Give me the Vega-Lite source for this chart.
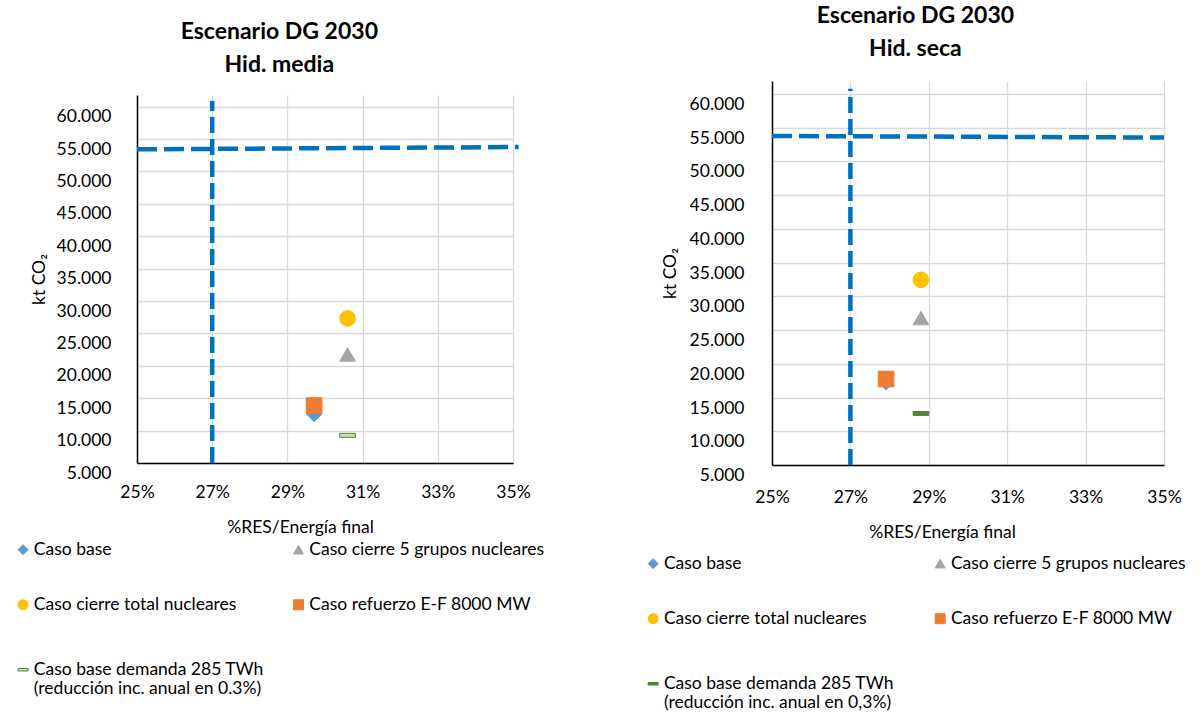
{
  "$schema": "https://vega.github.io/schema/vega-lite/v6.json",
  "background": "white",
  "padding": {"left": 14, "top": 4, "right": 0, "bottom": 0},
  "datasets": {
    "media": [
      {"serie": "Caso base", "x": 0.2971, "y": 12580},
      {"serie": "Caso cierre 5 grupos nucleares", "x": 0.3060, "y": 21760},
      {"serie": "Caso cierre total nucleares", "x": 0.3060, "y": 27320},
      {"serie": "Caso refuerzo E-F 8000 MW", "x": 0.2971, "y": 13870},
      {"serie": "Caso base demanda 285 TWh|(reducción inc. anual en 0.3%)", "x": 0.3060, "y": 9275}
    ],
    "seca": [
      {"serie": "Caso base", "x": 0.2791, "y": 17290},
      {"serie": "Caso cierre 5 grupos nucleares", "x": 0.2880, "y": 26780},
      {"serie": "Caso cierre total nucleares", "x": 0.2880, "y": 32430},
      {"serie": "Caso refuerzo E-F 8000 MW", "x": 0.2791, "y": 17740},
      {"serie": "Caso base demanda 285 TWh|(reducción inc. anual en 0,3%)", "x": 0.2880, "y": 12630}
    ],
    "media_lines": [
      {"g": "v", "x": 0.27, "y": 5000},
      {"g": "v", "x": 0.27, "y": 60860},
      {"g": "h", "x": 0.25, "y": 53410},
      {"g": "h", "x": 0.3515, "y": 53770}
    ],
    "seca_lines": [
      {"g": "v", "x": 0.27, "y": 5000},
      {"g": "v", "x": 0.27, "y": 60770},
      {"g": "h", "x": 0.25, "y": 53760},
      {"g": "h", "x": 0.35, "y": 53520}
    ]
  },
  "spacing": 99,
  "center": true,
  "hconcat": [
    {
      "width": 376,
      "height": 368,
      "title": {"text": "Escenario DG 2030", "subtitle": "Hid. media", "offset": 14.7},
      "encoding": {
        "x": {
          "field": "x", "type": "quantitative",
          "scale": {"domain": [0.25, 0.35], "nice": false, "zero": false},
          "axis": {"title": "%RES/Energía final", "values": [0.25, 0.27, 0.29, 0.31, 0.33, 0.35], "format": ".0%", "labelPadding": 20, "titlePadding": 18, "titleX": 163, "labelFlush": false}
        },
        "y": {
          "field": "y", "type": "quantitative",
          "scale": {"domain": [5000, 61800], "nice": false, "zero": false},
          "axis": {"title": "kt CO₂", "values": [5000, 10000, 15000, 20000, 25000, 30000, 35000, 40000, 45000, 50000, 55000, 60000], "labelExpr": "replace(format(datum.value, ',d'), ',', '.')", "labelPadding": 26, "labelOffset": 10, "titlePadding": 8, "labelFlush": false}
        }
      },
      "layer": [
        {
          "data": {"name": "media_lines"},
          "mark": {"type": "line", "clip": false, "strokeWidth": 4.5, "color": "#0070C0"},
          "encoding": {
            "detail": {"field": "g", "type": "nominal"},
            "strokeDash": {"field": "g", "type": "nominal", "scale": {"domain": ["v", "h"], "range": [[16, 6], [20, 7]]}, "legend": null}
          }
        },
        {
          "data": {"name": "media"},
          "mark": {"type": "point", "filled": true, "size": 245, "opacity": 1, "strokeWidth": 1},
          "encoding": {
            "shape": {
              "field": "serie", "type": "nominal",
              "scale": {"domain": ["Caso base", "Caso cierre 5 grupos nucleares", "Caso cierre total nucleares", "Caso refuerzo E-F 8000 MW", "Caso base demanda 285 TWh|(reducción inc. anual en 0.3%)"], "range": ["diamond", "triangle-up", "circle", "square", "M-1,-0.25H1V0.25H-1Z"]},
              "legend": {"title": null, "orient": "none", "direction": "horizontal", "legendX": -122.7, "legendY": 436, "labelLimit": 238, "columnPadding": 20.5, "labelExpr": "split(datum.label, '|')"}
            },
            "fill": {
              "field": "serie", "type": "nominal",
              "scale": {"domain": ["Caso base", "Caso cierre 5 grupos nucleares", "Caso cierre total nucleares", "Caso refuerzo E-F 8000 MW", "Caso base demanda 285 TWh|(reducción inc. anual en 0.3%)"], "range": ["#5B9BD5", "#A5A5A5", "#FFC000", "#ED7D31", "#C5E0B4"]}
            },
            "stroke": {
              "field": "serie", "type": "nominal",
              "scale": {"domain": ["Caso base", "Caso cierre 5 grupos nucleares", "Caso cierre total nucleares", "Caso refuerzo E-F 8000 MW", "Caso base demanda 285 TWh|(reducción inc. anual en 0.3%)"], "range": ["#5B9BD5", "#A5A5A5", "#FFC000", "#ED7D31", "#548235"]}
            }
          }
        }
      ]
    },
    {
      "width": 392,
      "height": 384,
      "title": {"text": "Escenario DG 2030", "subtitle": "Hid. seca", "offset": 18.7},
      "encoding": {
        "x": {
          "field": "x", "type": "quantitative",
          "scale": {"domain": [0.25, 0.35], "nice": false, "zero": false},
          "axis": {"title": "%RES/Energía final", "values": [0.25, 0.27, 0.29, 0.31, 0.33, 0.35], "format": ".0%", "labelPadding": 23, "titlePadding": 18, "titleX": 170, "labelFlush": false}
        },
        "y": {
          "field": "y", "type": "quantitative",
          "scale": {"domain": [5000, 61900], "nice": false, "zero": false},
          "axis": {"title": "kt CO₂", "values": [5000, 10000, 15000, 20000, 25000, 30000, 35000, 40000, 45000, 50000, 55000, 60000], "labelExpr": "replace(format(datum.value, ',d'), ',', '.')", "labelPadding": 28, "labelOffset": 10.5, "titlePadding": 10, "labelFlush": false}
        }
      },
      "layer": [
        {
          "data": {"name": "seca_lines"},
          "mark": {"type": "line", "clip": false, "strokeWidth": 4.5, "color": "#0070C0"},
          "encoding": {
            "detail": {"field": "g", "type": "nominal"},
            "strokeDash": {"field": "g", "type": "nominal", "scale": {"domain": ["v", "h"], "range": [[16, 6], [20, 7]]}, "legend": null}
          }
        },
        {
          "data": {"name": "seca"},
          "mark": {"type": "point", "filled": true, "size": 245, "opacity": 1, "strokeWidth": 1},
          "encoding": {
            "shape": {
              "field": "serie", "type": "nominal",
              "scale": {"domain": ["Caso base", "Caso cierre 5 grupos nucleares", "Caso cierre total nucleares", "Caso refuerzo E-F 8000 MW", "Caso base demanda 285 TWh|(reducción inc. anual en 0,3%)"], "range": ["diamond", "triangle-up", "circle", "square", "M-1,-0.25H1V0.25H-1Z"]},
              "legend": {"title": null, "orient": "none", "direction": "horizontal", "legendX": -127.6, "legendY": 464, "labelLimit": 270, "columnPadding": 32, "labelExpr": "split(datum.label, '|')"}
            },
            "fill": {
              "field": "serie", "type": "nominal",
              "scale": {"domain": ["Caso base", "Caso cierre 5 grupos nucleares", "Caso cierre total nucleares", "Caso refuerzo E-F 8000 MW", "Caso base demanda 285 TWh|(reducción inc. anual en 0,3%)"], "range": ["#5B9BD5", "#A5A5A5", "#FFC000", "#ED7D31", "#548235"]}
            },
            "stroke": {
              "field": "serie", "type": "nominal",
              "scale": {"domain": ["Caso base", "Caso cierre 5 grupos nucleares", "Caso cierre total nucleares", "Caso refuerzo E-F 8000 MW", "Caso base demanda 285 TWh|(reducción inc. anual en 0,3%)"], "range": ["#5B9BD5", "#A5A5A5", "#FFC000", "#ED7D31", "#548235"]}
            }
          }
        }
      ]
    }
  ],
  "resolve": {
    "scale": {"x": "independent", "y": "independent", "shape": "independent", "fill": "independent", "stroke": "independent", "strokeDash": "independent"},
    "legend": {"shape": "independent", "fill": "independent", "stroke": "independent"}
  },
  "config": {
    "font": "Lato",
    "view": {"stroke": null},
    "axis": {
      "labelFont": "Lato", "labelFontSize": 17.5, "labelColor": "#000000",
      "titleFont": "Lato", "titleFontSize": 17.5, "titleFontWeight": "normal", "titleColor": "#000000",
      "ticks": false, "tickSize": 0,
      "domainColor": "#000000", "domainWidth": 1.5,
      "gridColor": "#D9D9D9", "gridWidth": 1.3,
      "labelOverlap": false
    },
    "legend": {
      "labelFont": "Lato", "labelFontSize": 17.5, "labelColor": "#000000",
      "symbolSize": 100, "columns": 2, "rowPadding": 27,
      "gridAlign": "all", "labelOffset": 2, "padding": 0, "symbolStrokeWidth": 1, "symbolOpacity": 1
    },
    "title": {
      "font": "Lato", "fontSize": 23, "fontWeight": "bold", "color": "#000000",
      "anchor": "middle", "frame": "bounds",
      "subtitleFont": "Lato", "subtitleFontSize": 23, "subtitleFontWeight": "bold", "subtitleColor": "#000000",
      "subtitlePadding": 10
    }
  }
}
